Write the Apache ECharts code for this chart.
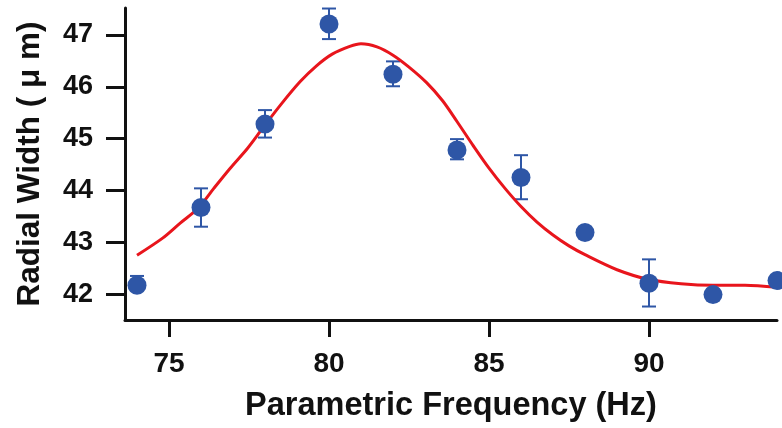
<!DOCTYPE html>
<html><head><meta charset="utf-8">
<script src="https://cdn.jsdelivr.net/npm/echarts@6/dist/echarts.min.js"></script>
<style>html,body{margin:0;padding:0;background:#fff}#c{width:782px;height:428px}</style>
</head><body><div id="c"></div>
<script>
// Measured data points
const freq = [74, 76, 78, 80, 82, 84, 86, 88, 90, 92, 94];
const width = [42.17, 43.67, 45.28, 47.21, 46.24, 44.78, 44.25, 43.19, 42.21, 41.99, 42.26];
const errUp = [0.18, 0.37, 0.27, 0.30, 0.25, 0.21, 0.43, 0.05, 0.46, 0.03, 0.05];
const errDown = [0.05, 0.37, 0.26, 0.29, 0.23, 0.18, 0.42, 0.05, 0.45, 0.03, 0.05];
// Fit curve
const fitX = [74, 74.8, 75.35, 75.9, 76.4, 76.9, 77.45, 77.95, 78.5, 79.1, 79.6, 80.1, 80.65, 81.0, 81.5, 82.0, 82.5, 83.05, 83.55, 84, 84.5, 85, 85.5, 86, 86.5, 87, 87.5, 88, 89, 90, 91, 92, 93, 94];
const fitY = [42.75, 43.08, 43.37, 43.65, 44.04, 44.42, 44.81, 45.22, 45.66, 46.10, 46.40, 46.63, 46.78, 46.83, 46.77, 46.61, 46.38, 46.08, 45.73, 45.33, 44.87, 44.43, 44.04, 43.69, 43.39, 43.14, 42.93, 42.76, 42.47, 42.28, 42.20, 42.17, 42.17, 42.13];
const xTicks = [75, 80, 85, 90];
const yTicks = [42, 43, 44, 45, 46, 47];

const FONT = 'Arial, "Liberation Sans", sans-serif';
const BLUE = '#2E56A6';
const RED = '#E8151C';

const chart = echarts.init(document.getElementById('c'), null, {renderer: 'canvas'});
chart.setOption({
  animation: false,
  backgroundColor: '#fff',
  grid: {left: 125, right: 5, top: 8, bottom: 106, containLabel: false},
  xAxis: {
    type: 'value', min: 73.625, max: 94,
    name: 'Parametric Frequency (Hz)', nameLocation: 'middle', nameGap: 70,
    nameTextStyle: {fontFamily: FONT, fontWeight: 'bold', fontSize: 32.5, color: '#111'},
    axisLine: {show: true, lineStyle: {color: '#111', width: 3}},
    axisTick: {show: true, length: 17, lineStyle: {color: '#111', width: 3}, customValues: xTicks},
    axisLabel: {fontFamily: FONT, fontWeight: 'bold', fontSize: 28, color: '#111', margin: 30, customValues: xTicks},
    splitLine: {show: false}
  },
  yAxis: {
    type: 'value', min: 41.5, max: 47.52,
    name: 'Radial Width ( μ m)', nameLocation: 'middle', nameGap: 79, nameRotate: 90,
    nameTextStyle: {fontFamily: FONT, fontWeight: 'bold', fontSize: 31.5, color: '#111'},
    axisLine: {show: true, lineStyle: {color: '#111', width: 3}},
    axisTick: {show: true, length: 19, lineStyle: {color: '#111', width: 3}, customValues: yTicks},
    axisLabel: {fontFamily: FONT, fontWeight: 'bold', fontSize: 27, color: '#111', margin: 32, customValues: yTicks},
    splitLine: {show: false}
  },
  series: [
    {
      type: 'line', smooth: 0.3, showSymbol: false, z: 3,
      data: fitX.map((x, i) => [x, fitY[i]]),
      lineStyle: {color: RED, width: 3}
    },
    {
      type: 'custom', z: 2,
      data: freq.map((x, i) => [x, width[i] - errDown[i], width[i] + errUp[i]]),
      renderItem: function (params, api) {
        const x = api.value(0);
        const lo = api.coord([x, api.value(1)]);
        const hi = api.coord([x, api.value(2)]);
        const hw = 7;
        const st = {stroke: BLUE, lineWidth: 2};
        return {type: 'group', children: [
          {type: 'line', shape: {x1: lo[0], y1: lo[1], x2: hi[0], y2: hi[1]}, style: st},
          {type: 'line', shape: {x1: lo[0] - hw, y1: lo[1], x2: lo[0] + hw, y2: lo[1]}, style: st},
          {type: 'line', shape: {x1: hi[0] - hw, y1: hi[1], x2: hi[0] + hw, y2: hi[1]}, style: st}
        ]};
      }
    },
    {
      type: 'scatter', z: 4, clip: false,
      symbol: 'circle', symbolSize: 19,
      data: freq.map((x, i) => [x, width[i]]),
      itemStyle: {color: BLUE, opacity: 1}
    }
  ]
});
</script></body></html>
